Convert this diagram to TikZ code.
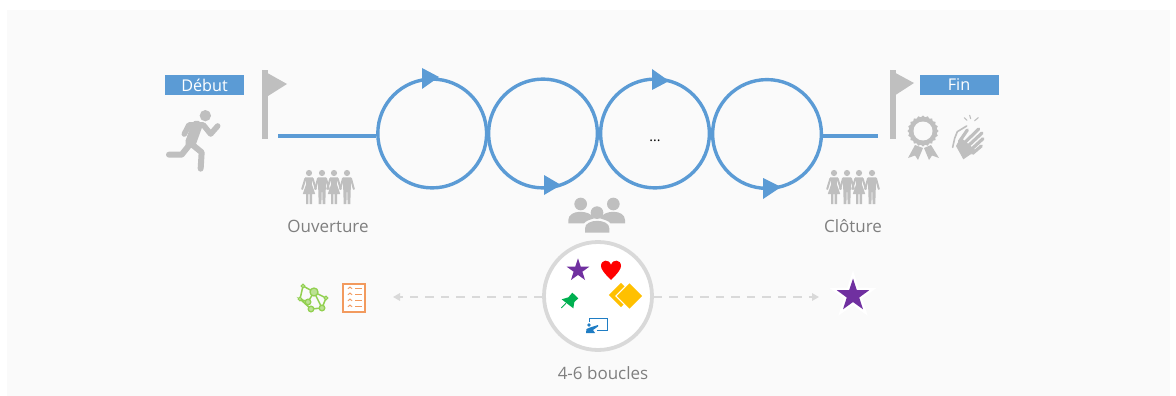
\documentclass[tikz,border=0pt]{standalone}
\usepackage{fontspec}
\setmainfont{Open Sans}
\usetikzlibrary{shapes.geometric,arrows.meta,calc}
\definecolor{loopblue}{HTML}{5B9BD5}
\definecolor{icongray}{HTML}{BFBFBF}
\definecolor{textgray}{HTML}{7F7F7F}
\definecolor{dashgray}{HTML}{D9D9D9}
\definecolor{panel}{HTML}{FAFAFA}
\definecolor{starpurple}{HTML}{7030A0}
\definecolor{pingreen}{HTML}{00B050}
\definecolor{netgreen}{HTML}{92D050}
\definecolor{listorange}{HTML}{F29A5E}
\definecolor{diamondgold}{HTML}{FFC000}
\definecolor{boardblue}{HTML}{1F7DC4}
\tikzset{
 x=1pt,y=-1pt,
 loopnode/.style={circle,draw=loopblue,line width=3.4pt,minimum size=108.8pt,inner sep=0pt},
 loopline/.style={draw=loopblue,line width=4.8pt},
 looptip/.style={fill=loopblue,draw=none},
 tagbox/.style={fill=loopblue,minimum width=79pt,minimum height=20pt,inner sep=0pt,text=white,font=\fontsize{16.2}{17}\selectfont},
 caption/.style={text=textgray,font=\fontsize{17}{18}\selectfont,inner sep=0pt},
 graymark/.style={fill=icongray,draw=none},
 limb/.style={draw=icongray,line cap=round,line join=round},
 flow/.style={draw=dashgray,line width=1.6pt,dash pattern=on 8.5pt off 7pt,-{Triangle[length=7pt,width=7.5pt]}},
 starmark/.style={star,star points=5,star point ratio=2.6,fill=starpurple,draw=none,inner sep=0pt},
 hub/.style={circle,draw=dashgray,fill=white,line width=3.8pt,minimum size=108pt,inner sep=0pt},
}
\newcommand{\manfig}[1]{%
 \begin{scope}[shift={#1}]
 \fill[icongray] (0,0) circle (3.1);
 \fill[icongray] (-4.2,4.3) -- (4.2,4.3) -- (3.7,18) -- (3.3,31) -- (0.6,31) -- (0.3,19) -- (-0.3,19) -- (-0.6,31) -- (-3.3,31) -- (-3.7,18) -- cycle;
 \draw[limb,line width=2pt] (-4,5.5) -- (-6.8,16);
 \draw[limb,line width=2pt] (4,5.5) -- (6.8,16);
 \end{scope}}
\newcommand{\womanfig}[1]{%
 \begin{scope}[shift={#1}]
 \fill[icongray] (0,0) circle (3.1);
 \fill[icongray] (-3.8,4.3) -- (3.8,4.3) -- (2.8,11) -- (6.2,21) -- (3,21) -- (3,31) -- (0.6,31) -- (0.6,21) -- (-0.6,21) -- (-0.6,31) -- (-3,31) -- (-3,21) -- (-6.2,21) -- (-2.8,11) -- cycle;
 \draw[limb,line width=2pt] (-3.6,5.5) -- (-6.8,16);
 \draw[limb,line width=2pt] (3.6,5.5) -- (6.8,16);
 \end{scope}}
\newcommand{\crowd}[4]{\womanfig{(#1,173)}\manfig{(#2,173)}\womanfig{(#3,173)}\manfig{(#4,173)}}
\newcommand{\flag}[5]{\fill[icongray] (#1,70) -- (#2,70) -- (#2,139) -- (#1,139) -- cycle;
 \fill[icongray] (#1,70) -- (#3,#4) -- (#2,#5) -- (#1,#5) -- cycle;}
\begin{document}
\begin{tikzpicture}
\useasboundingbox (0,0) rectangle (1176,396);
\fill[white] (0,0) rectangle (1176,396);
\fill[panel] (7,10) rectangle (1170,396);

% loops
\node[loopnode] (c1) at (432.2,133.5) {};
\node[loopnode] (c2) at (543,133.5) {};
\node[loopnode] (c3) at (655,133.5) {};
\node[loopnode] (c4) at (767,134) {};
\node[anchor=base,inner sep=0pt,font=\fontsize{14}{15}\selectfont] (dots) at (655,141) {...};

\coordinate (startend) at (278,136);
\coordinate (finend) at (878,136);
\draw[loopline] (startend) -- (c1.west |- startend);
\draw[loopline] (c4.east |- finend) -- (finend);

\fill[looptip] (422,68) -- (439,77) -- (422,89) -- cycle;
\fill[looptip] (544,175) -- (561,185) -- (544,195) -- cycle;
\fill[looptip] (652,69) -- (669,81) -- (652,90) -- cycle;
\fill[looptip] (763,178) -- (781,187) -- (763,199) -- cycle;

% flags and tags
\flag{262}{268}{287}{84}{96}
\flag{890}{895.5}{914}{83}{95}
\node[tagbox] (debut) at (204.5,85) {Début};
\node[tagbox] (fin) at (959,85) {Fin};

% runner
\begin{scope}[shift={(150,60)},scale=1/3]
 \fill[icongray] (166,167) circle (17);
 \draw[limb,line width=5.6pt] (103,222) -- (117,195) -- (160,195) -- (182,222) -- (203,198);
 \draw[limb,line width=11pt] (140,198) -- (122,248);
 \draw[limb,line width=6pt] (122,250) -- (155,277) -- (152,326);
 \draw[limb,line width=6pt] (122,250) -- (95,284) -- (57,284);
\end{scope}

% crowds
\crowd{309}{322}{334}{347}
\crowd{834}{847}{859}{872}
\node[caption] (ouv) at (328,226) {Ouverture};
\node[caption] (clo) at (853,226) {Clôture};

% medal
\node[star,star points=20,star point ratio=1.12,fill=icongray,minimum size=31pt,inner sep=0pt] (medal) at (923,131) {};
\fill[panel] (medal.center) circle (9.5);
\fill[icongray] (915,145) -- (908,158) -- (915,155.5) -- (918,160) -- (923,148) -- cycle;
\fill[icongray] (931,145) -- (939,158) -- (932,155.5) -- (929,160) -- (924,148) -- cycle;

% clap
\begin{scope}[shift={(820,60)},scale=1/3]
 \draw[icongray,line width=1.1pt,line cap=round] (441,181) -- (433,173);
 \draw[icongray,line width=1.1pt,line cap=round] (452,176) -- (449,166);
 \draw[icongray,line width=1.1pt,line cap=round] (464,182) -- (475,173);
 \draw[limb,line width=1.6pt] (398,262) -- (404,235) -- (412,215) -- (440,198);
 \fill[icongray] (408,258) -- (422,232) -- (468,272) -- (430,298) -- cycle;
 \draw[limb,line width=3.2pt] (418,245) -- (442,210);
 \draw[limb,line width=3.2pt] (432,250) -- (476,207);
 \draw[limb,line width=3.2pt] (442,260) -- (486,219);
 \draw[limb,line width=3.2pt] (452,270) -- (489,236);
 \draw[limb,line width=3.2pt] (458,280) -- (484,258);
\end{scope}

% group above the hub
\begin{scope}[shift={(530,190)},scale=1/3]
 \fill[icongray] (152,42) circle (19);
 \fill[icongray] (250,42) circle (19);
 \fill[icongray] (115,100) -- (115,90) .. controls (115,58) and (180,58) .. (192,85) .. controls (178,90) and (168,92) .. (162,100) -- cycle;
 \fill[icongray] (285,100) -- (285,90) .. controls (285,58) and (222,58) .. (210,85) .. controls (225,90) and (236,92) .. (241,100) -- cycle;
 \fill[icongray] (201,68) circle (19);
 \fill[icongray] (165,128) -- (165,115) .. controls (165,85) and (238,85) .. (238,115) -- (238,128) -- cycle;
\end{scope}

% flows
\node[hub] (hub) at (598,296) {};
\coordinate (flowl) at (393,297);
\coordinate (flowr) at (819,297);
\draw[flow] (hub.west |- flowl) -- (flowl);
\draw[flow] (hub.east |- flowr) -- (flowr);
\node[caption] (boucles) at (603,373) {4-6 boucles};

% hub contents
\node[starmark,minimum size=24pt] (hstar) at (578,270.3) {};
\fill[red] (611,280) .. controls (604,273) and (601,269) .. (601,266) .. controls (601,259.5) and (609,258.5) .. (611,265) .. controls (613,258.5) and (621,259.5) .. (621,266) .. controls (621,269) and (618,273) .. (611,280) -- cycle;
\begin{scope}[shift={(530,190)},scale=1/3]
 \fill[pingreen] (95,328) -- (115,322) -- (127,308) -- (145,325) -- (133,336) -- (130,355) -- cycle;
 \draw[pingreen,line width=.9pt] (108,340) -- (94,354);
\end{scope}
\node[diamond,aspect=1,fill=diamondgold,minimum size=24.5pt,inner sep=0pt] (d1) at (621,295) {};
\node[diamond,aspect=1,fill=white,minimum size=29pt,inner sep=0pt] at (629.5,296) {};
\node[diamond,aspect=1,fill=diamondgold,minimum size=25.5pt,inner sep=0pt] (d2) at (629.5,296) {};
\draw[boardblue,line width=.9pt] (589.5,322) -- (589.5,318.5) -- (607.5,318.5) -- (607.5,330) -- (597,330);
\fill[boardblue] (589,325) circle (1.8);
\fill[boardblue] (586,333) -- (586.5,329) -- (590,327.5) -- (598,325) -- (598,326.5) -- (593,330) -- (595,333) -- cycle;

% left icons
\coordinate (netA) at (303,286);
\coordinate (netB) at (314,292);
\coordinate (netC) at (326,298);
\coordinate (netD) at (300,299);
\coordinate (netE) at (311,309);
\coordinate (netF) at (322,308);
\coordinate (netG) at (308,302);
\draw[netgreen,line width=1.5pt] (netA) -- (netB) -- (netC) -- (netF) -- (netE) -- (netD) -- (netG) -- (netB) -- (netF) (netA) -- (netD);
\foreach \p/\r in {netA/1.8,netC/1.8,netD/1.8}{\draw[netgreen,line width=1.3pt,fill=panel] (\p) circle (\r);}
\foreach \p/\r in {netB/4,netE/2.8,netF/2.8,netG/2.8}{\draw[netgreen,line width=1.3pt,fill=netgreen!60!panel] (\p) circle (\r);}
\draw[listorange,line width=2pt,fill=white] (343.3,283.7) rectangle (364.7,311.7);
\foreach \yy in {288,294,300,306}{
 \draw[listorange,line width=.9pt] (348,\yy+.8) -- (350,\yy-1) -- (352,\yy+.8);
 \draw[listorange,line width=.9pt] (355,\yy) -- (362,\yy);
}

% right star
\node[star,star points=5,star point ratio=2.6,fill=white,inner sep=0pt,minimum size=50pt] at (853,295.5) {};
\node[starmark,minimum size=34pt] (rstar) at (853,295.5) {};
\end{tikzpicture}
\end{document}
